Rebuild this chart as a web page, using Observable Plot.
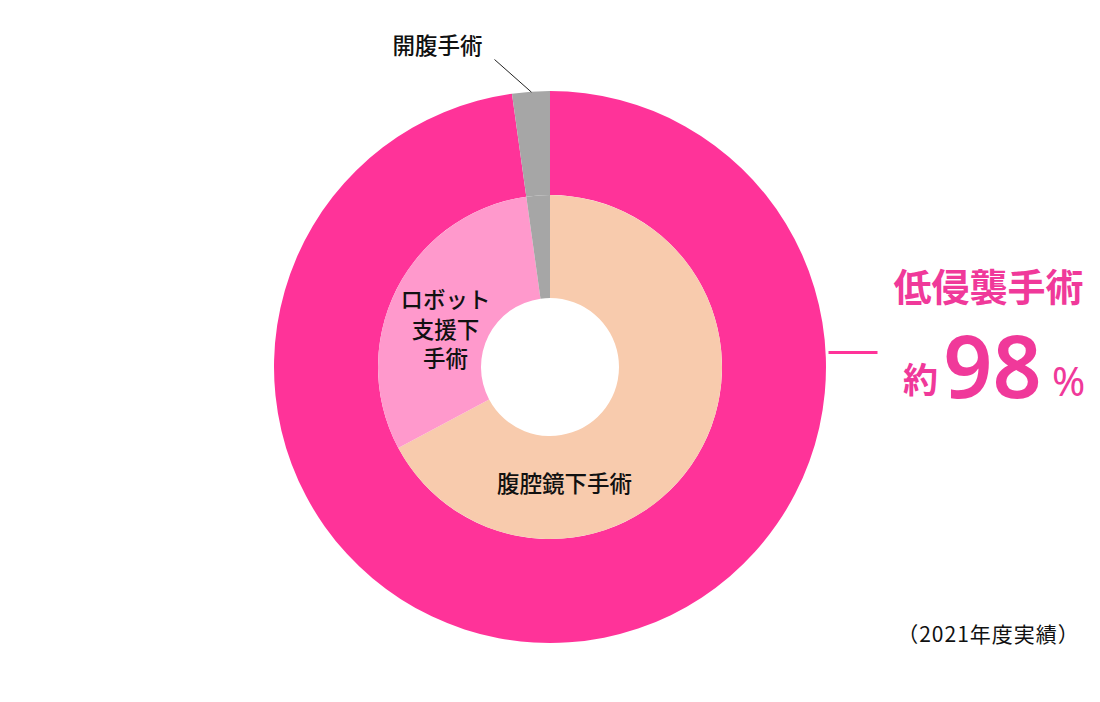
<!DOCTYPE html>
<html><head><meta charset="utf-8">
<script src="https://cdn.jsdelivr.net/npm/d3@7"></script>
<script src="https://cdn.jsdelivr.net/npm/@observablehq/plot@0.6"></script>
<style>
body{margin:0;background:#fff}
#chart svg{display:block}
</style>
</head><body><div id="chart"></div>
<script>
// ---- data (2021年度実績) ----
const outerCategories = ["低侵襲手術", "開腹手術"];
const outerValues = [97.8, 2.2];
const innerCategories = ["腹腔鏡下手術", "ロボット支援下手術", "開腹手術"];
const innerValues = [67.2, 30.6, 2.2];
const headline = "低侵襲手術";
const headlinePrefix = "約";
const headlineValue = "98";
const headlineUnit = "%";
const caption = "（2021年度実績）";

// ---- style / layout ----
const colors = {"低侵襲手術": "#FF3399", "開腹手術": "#A6A6A6", "腹腔鏡下手術": "#F8CBAD", "ロボット支援下手術": "#FF99CC"};
const pinkText = "#F0399A";
const W = 1100, H = 702, CX = 550, CY = 367;
const R_OUT = 276, R_MID = 172, R_IN = 69;
const JP = "'Noto Sans CJK JP', 'Noto Sans', sans-serif";

const outer = outerCategories.map((c, i) => ({category: c, value: outerValues[i]}));
const inner = innerCategories.map((c, i) => ({category: c, value: innerValues[i]}));
const pie = d3.pie().value(d => d.value).sort(null);
const outerArcs = pie(outer);
const innerArcs = pie(inner);

// rings drawn through the plot's x/y scales (data units = pixels from centre)
function rings(index, scales) {
  const cx = scales.x(0), cy = scales.y(0);
  const k = scales.x(1) - scales.x(0);
  const g = d3.create("svg:g").attr("transform", `translate(${cx},${cy})`);
  const draw = (arcs, r0, r1) => {
    const arc = d3.arc().innerRadius(r0 * k).outerRadius(r1 * k);
    for (const a of arcs) g.append("path").attr("d", arc(a)).attr("fill", colors[a.data.category]);
  };
  draw(outerArcs, R_MID, R_OUT);
  draw(innerArcs, R_IN, R_MID);
  return g.node();
}

const px = (x) => x - CX;          // pixel -> data x
const py = (y) => CY - y;          // pixel -> data y

// leader line for 開腹手術 ends at mid-angle of its outer slice
const open = outerArcs.find(a => a.data.category === "開腹手術");
const midA = (open.startAngle + open.endAngle) / 2;
const leader = [{x1: px(494), y1: py(59), x2: R_OUT * Math.sin(midA), y2: R_OUT * Math.cos(midA)}];
const pinkLine = [{x1: R_OUT + 2, y1: py(352), x2: px(877), y2: py(352)}];

const labels = [
  {text: "開腹手術", x: px(437), y: py(44)},
  {text: "ロボット\n支援下\n手術", x: px(445), y: py(328)},
  {text: "腹腔鏡下手術", x: px(564), y: py(482)}
];

const chart = Plot.plot({
  width: W, height: H,
  margin: 0,
  x: {domain: [-CX, W - CX], axis: null},
  y: {domain: [CY - H, CY], axis: null},
  marks: [
    rings,
    Plot.link(leader, {x1: "x1", y1: "y1", x2: "x2", y2: "y2", stroke: "#222", strokeWidth: 1}),
    Plot.link(pinkLine, {x1: "x1", y1: "y1", x2: "x2", y2: "y2", stroke: colors["低侵襲手術"], strokeWidth: 3}),
    Plot.text(labels, {x: "x", y: "y", text: "text", fontSize: 22.5, fontWeight: 500, lineHeight: 1.31, fill: "#111", fontFamily: JP}),
    Plot.text([headline], {x: px(988), y: py(288), text: d => d, fontSize: 38, fontWeight: 700, fill: pinkText, fontFamily: JP}),
    Plot.text([headlinePrefix], {x: px(920), y: py(381), text: d => d, fontSize: 35, fontWeight: 600, fill: pinkText, fontFamily: JP}),
    Plot.text([headlineValue], {x: px(992), y: py(370), text: d => d, fontSize: 86, fontWeight: 600, fill: pinkText, fontFamily: "'Noto Sans', sans-serif"}),
    Plot.text([headlineUnit], {x: px(1068), y: py(383), text: d => d, fontSize: 40, fontWeight: 400, fill: pinkText, fontFamily: "'Noto Sans', sans-serif"}),
    Plot.text([caption], {x: px(988), y: py(635), text: d => d, fontSize: 21, fontWeight: 400, fill: "#111", fontFamily: JP, className: "caption"})
  ]
});
d3.select(chart).selectAll(".caption text").style("letter-spacing", "1px");
document.getElementById("chart").appendChild(chart);
</script>
</body></html>
